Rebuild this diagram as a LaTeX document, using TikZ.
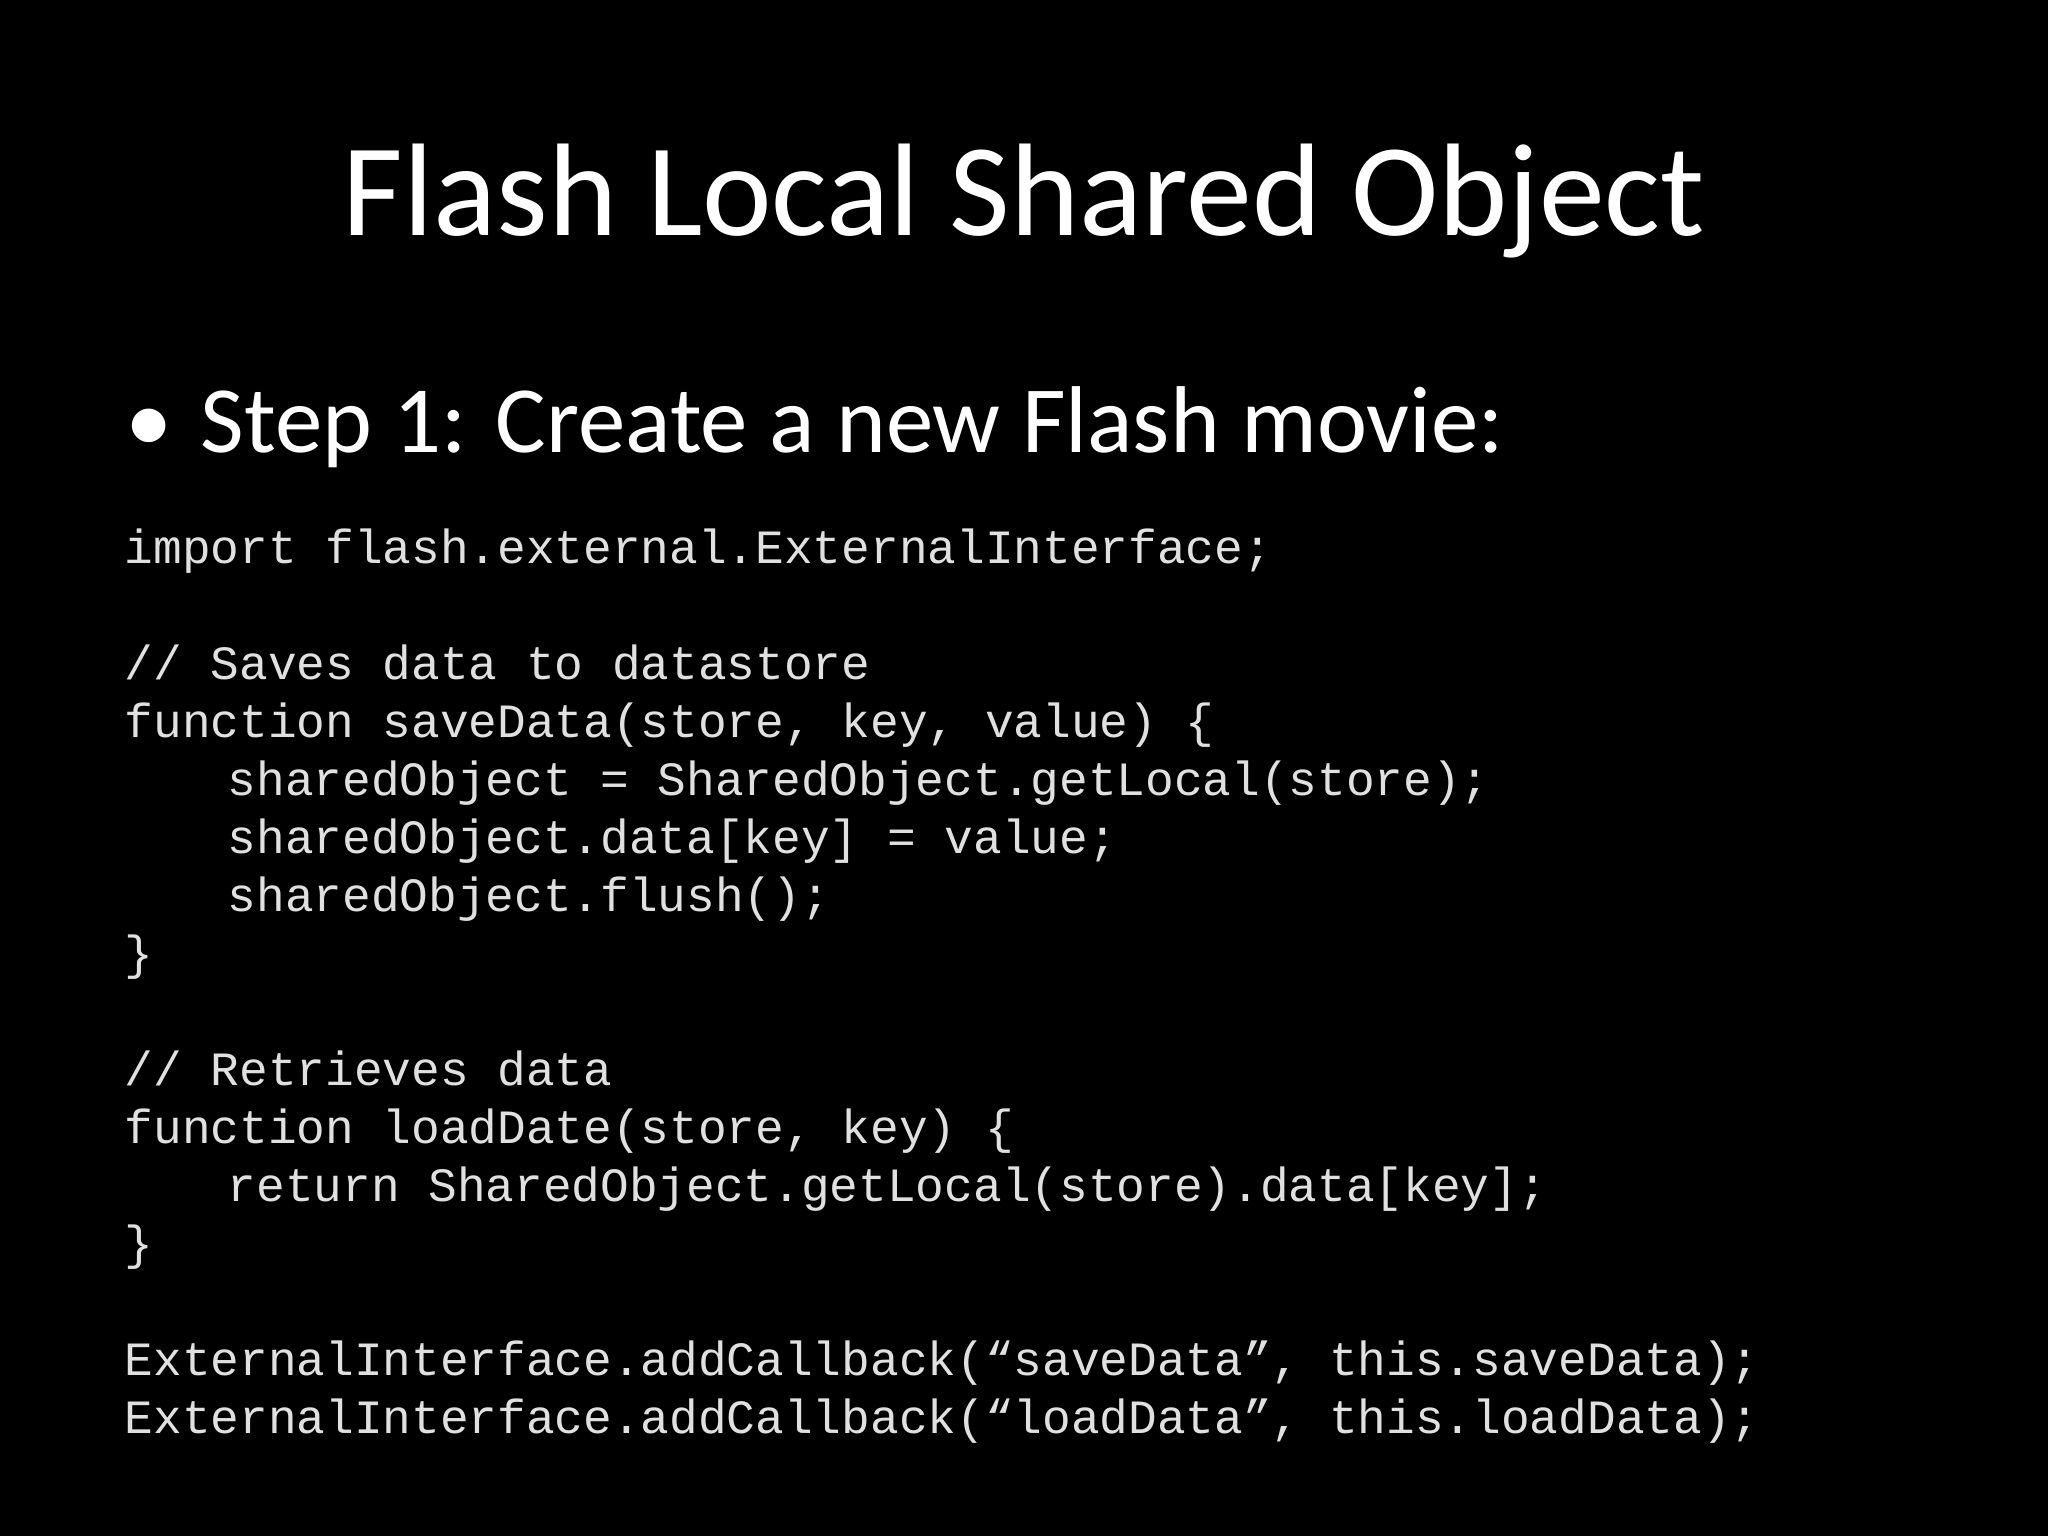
\documentclass[tikz,border=0pt]{standalone}
\usepackage{fontspec}
\setmainfont{Carlito}
\newfontfamily\codefont{Liberation Mono}
\begin{document}
\begin{tikzpicture}[x=1cm,y=1cm,
  codeline/.style={anchor=base west,inner sep=0pt,text=black!12,font=\codefont\fontsize{13.6pt}{16pt}\selectfont}]
\fill[black] (0,0) rectangle (20.48,15.36);
\useasboundingbox (0,0) rectangle (20.48,15.36);
\node[text=white,font=\fontsize{37.5pt}{44pt}\selectfont,anchor=base] (title) at (10.24,13.0) {Flash Local Shared Object};
\node[text=white,font=\fontsize{27pt}{32pt}\selectfont,anchor=base west,inner sep=0pt] (bul) at (1.25,10.83) {•};
\node[text=white,font=\fontsize{27pt}{32pt}\selectfont,anchor=base west,inner sep=0pt] (step) at (2.0,10.83) {Step 1: Create a new Flash movie:};
\def\L{1.24}\def\I{2.27}
\node[codeline] (c0) at (\L,9.72) {import flash.external.ExternalInterface;};
\node[codeline] (c2) at (\L,8.56) {// Saves data to datastore};
\node[codeline] (c3) at (\L,7.98) {function saveData(store, key, value) \{};
\node[codeline] (c4) at (\I,7.40) {sharedObject = SharedObject.getLocal(store);};
\node[codeline] (c5) at (\I,6.82) {sharedObject.data[key] = value;};
\node[codeline] (c6) at (\I,6.24) {sharedObject.flush();};
\node[codeline] (c7) at (\L,5.66) {\}};
\node[codeline] (c9) at (\L,4.50) {// Retrieves data};
\node[codeline] (c10) at (\L,3.92) {function loadDate(store, key) \{};
\node[codeline] (c11) at (\I,3.34) {return SharedObject.getLocal(store).data[key];};
\node[codeline] (c12) at (\L,2.76) {\}};
\node[codeline] (c14) at (\L,1.60) {ExternalInterface.addCallback(“saveData”, this.saveData);};
\node[codeline] (c15) at (\L,1.02) {ExternalInterface.addCallback(“loadData”, this.loadData);};
\end{tikzpicture}
\end{document}
